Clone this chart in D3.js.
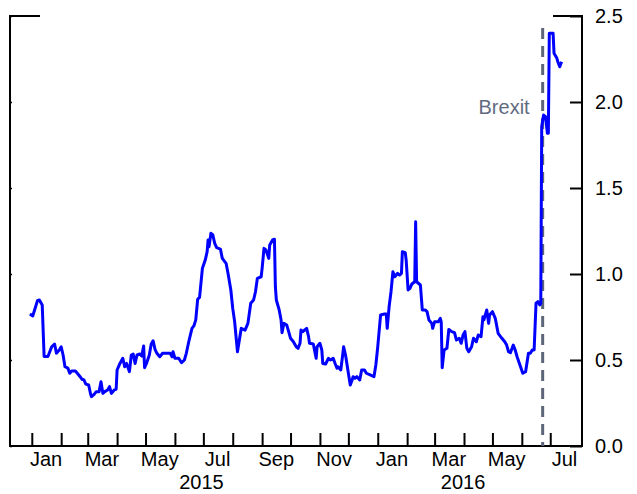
<!DOCTYPE html>
<html>
<head>
<meta charset="utf-8">
<script src="https://cdn.jsdelivr.net/npm/d3@7"></script>
<style>
  html, body { margin: 0; padding: 0; background: #fff; }
  svg { display: block; font-family: "Liberation Sans", Arial, Helvetica, sans-serif; }
</style>
</head>
<body>
<svg id="chart" width="637" height="494"></svg>
<script>
// ---- data ----
const dates = [
"2014-12-30","2015-01-02","2015-01-07","2015-01-09","2015-01-12","2015-01-14","2015-01-18","2015-01-22","2015-01-25","2015-01-27","2015-01-30",
"2015-02-01","2015-02-03","2015-02-05","2015-02-08","2015-02-10","2015-02-12","2015-02-16","2015-02-18","2015-02-21","2015-02-23","2015-02-25","2015-02-27",
"2015-03-02","2015-03-04","2015-03-05","2015-03-08","2015-03-10","2015-03-13","2015-03-15","2015-03-17","2015-03-19","2015-03-22","2015-03-24","2015-03-26","2015-03-29","2015-03-31",
"2015-04-01","2015-04-04","2015-04-07","2015-04-09","2015-04-11","2015-04-14","2015-04-16","2015-04-18","2015-04-20","2015-04-22","2015-04-25","2015-04-27","2015-04-29","2015-04-30",
"2015-05-02","2015-05-05","2015-05-07","2015-05-09","2015-05-11","2015-05-13","2015-05-16","2015-05-19","2015-05-23","2015-05-27","2015-05-29","2015-05-30",
"2015-06-01","2015-06-05","2015-06-08","2015-06-11","2015-06-13","2015-06-16","2015-06-19","2015-06-21","2015-06-23","2015-06-25","2015-06-27","2015-06-30",
"2015-07-03","2015-07-05","2015-07-06","2015-07-07","2015-07-09","2015-07-11","2015-07-13","2015-07-15","2015-07-19","2015-07-21","2015-07-25","2015-07-27","2015-07-30",
"2015-08-01","2015-08-03","2015-08-06","2015-08-10","2015-08-14","2015-08-17","2015-08-20","2015-08-23","2015-08-25","2015-08-27","2015-08-31",
"2015-09-01","2015-09-03","2015-09-05","2015-09-08","2015-09-09","2015-09-12","2015-09-14","2015-09-15","2015-09-16","2015-09-19","2015-09-21","2015-09-22","2015-09-24","2015-09-27","2015-09-29",
"2015-10-01","2015-10-04","2015-10-07","2015-10-09","2015-10-11","2015-10-12","2015-10-14","2015-10-15","2015-10-18","2015-10-20","2015-10-21","2015-10-25","2015-10-28","2015-10-29",
"2015-11-01","2015-11-03","2015-11-04","2015-11-07","2015-11-10","2015-11-12","2015-11-15","2015-11-17","2015-11-19","2015-11-20","2015-11-23","2015-11-25","2015-11-26","2015-11-28",
"2015-12-01","2015-12-03","2015-12-05","2015-12-06","2015-12-08","2015-12-10","2015-12-13","2015-12-15","2015-12-18","2015-12-20","2015-12-24","2015-12-28","2015-12-30",
"2016-01-01","2016-01-04","2016-01-08","2016-01-10","2016-01-11","2016-01-13","2016-01-15","2016-01-17","2016-01-19","2016-01-22","2016-01-24","2016-01-26","2016-01-27","2016-01-30","2016-01-31",
"2016-02-02","2016-02-04","2016-02-06","2016-02-09","2016-02-10","2016-02-11","2016-02-15","2016-02-17","2016-02-20","2016-02-22","2016-02-24","2016-02-27","2016-02-28",
"2016-03-01","2016-03-05","2016-03-07","2016-03-08","2016-03-09","2016-03-11","2016-03-14","2016-03-16","2016-03-19","2016-03-22","2016-03-24","2016-03-27","2016-03-29","2016-03-31",
"2016-04-02","2016-04-04","2016-04-06","2016-04-09","2016-04-11","2016-04-14","2016-04-16","2016-04-19","2016-04-21","2016-04-22","2016-04-25","2016-04-27","2016-04-28",
"2016-05-01","2016-05-04","2016-05-07","2016-05-11","2016-05-14","2016-05-16","2016-05-18","2016-05-20","2016-05-23","2016-05-25","2016-05-27","2016-05-30",
"2016-06-02","2016-06-05","2016-06-08","2016-06-10","2016-06-12","2016-06-14","2016-06-16","2016-06-18","2016-06-20","2016-06-21","2016-06-22","2016-06-24","2016-06-26","2016-06-28","2016-06-29","2016-06-30",
"2016-07-04","2016-07-05","2016-07-08","2016-07-09","2016-07-11","2016-07-13"
];
const values = [
0.767,0.756,0.845,0.849,0.82,0.52,0.52,0.577,0.593,0.54,0.558,
0.577,0.529,0.461,0.453,0.423,0.436,0.436,0.423,0.403,0.388,0.384,0.36,
0.355,0.302,0.287,0.302,0.316,0.316,0.374,0.306,0.316,0.326,0.345,0.306,0.326,0.33,
0.442,0.48,0.51,0.461,0.48,0.432,0.529,0.535,0.48,0.529,0.535,0.523,0.581,0.455,
0.48,0.529,0.593,0.612,0.562,0.539,0.519,0.539,0.539,0.539,0.519,0.548,
0.51,0.51,0.484,0.5,0.539,0.616,0.684,0.698,0.733,0.853,0.864,1.033,
1.081,1.13,1.198,1.159,1.237,1.227,1.178,1.153,1.145,1.091,1.062,1.004,0.907,
0.8,0.723,0.548,0.684,0.674,0.713,0.83,0.849,0.897,0.975,0.984,
1.033,1.149,1.14,1.091,1.169,1.198,1.202,0.926,0.849,0.791,0.733,0.659,0.713,0.703,0.665,
0.626,0.606,0.577,0.568,0.597,0.674,0.665,0.67,0.684,0.636,0.597,0.593,0.51,0.577,
0.597,0.558,0.48,0.477,0.51,0.5,0.51,0.48,0.452,0.461,0.442,0.529,0.577,0.529,
0.423,0.355,0.384,0.403,0.394,0.403,0.384,0.442,0.442,0.423,0.413,0.403,0.471,
0.577,0.762,0.767,0.767,0.684,0.81,0.897,1.013,0.984,1.004,0.994,1.004,1.13,1.124,1.081,
0.907,0.917,0.942,0.955,1.304,0.955,0.936,0.791,0.791,0.781,0.733,0.713,0.684,
0.723,0.723,0.742,0.72,0.455,0.558,0.568,0.678,0.665,0.659,0.616,0.626,0.597,0.645,
0.665,0.568,0.548,0.577,0.626,0.606,0.645,0.636,0.752,0.733,0.791,0.713,0.762,
0.781,0.742,0.655,0.626,0.606,0.587,0.548,0.542,0.587,0.558,0.519,0.471,
0.423,0.432,0.539,0.539,0.558,0.558,0.83,0.839,0.82,0.83,1.857,1.924,1.915,1.818,1.818,2.399,
2.4,2.283,2.254,2.234,2.205,2.234
];
const xDomain = ["2014-12-09", "2016-08-03T12:00"];
const yTicks = [0, 0.5, 1.0, 1.5, 2.0, 2.5];
const monthTickDates = ["2015-01-01","2015-02-01","2015-03-01","2015-04-01","2015-05-01","2015-06-01","2015-07-01","2015-08-01","2015-09-01","2015-10-01","2015-11-01","2015-12-01",
                        "2016-01-01","2016-02-01","2016-03-01","2016-04-01","2016-05-01","2016-06-01","2016-07-01"];
const monthLabels = ["Jan","Mar","May","Jul","Sep","Nov","Jan","Mar","May","Jul"];
const monthLabelDates = ["2015-01-16","2015-03-16","2015-05-16","2015-07-16","2015-09-16","2015-11-16","2016-01-16","2016-03-16","2016-05-16","2016-07-16"];
const yearLabels = ["2015","2016"];
const yearLabelDates = ["2015-06-29","2016-03-31"];
const eventDate = "2016-06-23";
const eventLabel = "Brexit";

// ---- chart ----
(function () {
const svg = d3.select("#chart");
const parse = d => new Date(d.length > 10 ? d : d + "T00:00");
const mL = 10, mR = 582, mT = 16, mB = 446;

const x = d3.scaleTime().domain(xDomain.map(parse)).range([mL, mR]);
const y = d3.scaleLinear().domain([0, 2.5]).range([mB, mT]);

const series = dates.map((d, i) => ({ date: parse(d), value: values[i] }));

// Bottom axis with inward (upward) month ticks
const xAxis = d3.axisBottom(x)
  .tickValues(monthTickDates.map(parse))
  .tickSize(-13)
  .tickFormat("");
const gx = svg.append("g").attr("transform", `translate(0,${mB})`).call(xAxis);
gx.select(".domain").remove();
gx.selectAll(".tick line").attr("stroke", "#000").attr("stroke-width", 2);
svg.append("line").attr("x1", mL).attr("x2", mR + 1).attr("y1", mB).attr("y2", mB)
  .attr("stroke", "#000").attr("stroke-width", 2);

// Right axis
const yAxisR = d3.axisRight(y).tickValues(yTicks).tickSize(-12).tickFormat(d3.format(".1f"));
const gyr = svg.append("g").attr("transform", `translate(${mR},0)`).call(yAxisR);
gyr.select(".domain").remove();
gyr.selectAll(".tick line").attr("stroke", "#000").attr("stroke-width", 2);
gyr.selectAll(".tick text").attr("x", 13).attr("font-size", 20).attr("fill", "#000")
  .attr("font-family", "'Liberation Sans', Arial, sans-serif");
svg.append("line").attr("x1", mR).attr("x2", mR).attr("y1", mT - 1).attr("y2", mB + 1)
  .attr("stroke", "#000").attr("stroke-width", 2);
svg.append("line").attr("x1", mR - 29).attr("x2", mR).attr("y1", y(2.5)).attr("y2", y(2.5))
  .attr("stroke", "#000").attr("stroke-width", 2);

// Left axis
const yAxisL = d3.axisLeft(y).tickValues(yTicks).tickSize(-2).tickFormat("");
const gyl = svg.append("g").attr("transform", `translate(${mL},0)`).call(yAxisL);
gyl.select(".domain").remove();
gyl.selectAll(".tick line").attr("stroke", "#000").attr("stroke-width", 1.5);
svg.append("line").attr("x1", mL).attr("x2", mL).attr("y1", mT - 1).attr("y2", mB + 1)
  .attr("stroke", "#000").attr("stroke-width", 2);
svg.append("line").attr("x1", mL).attr("x2", mL + 30).attr("y1", y(2.5)).attr("y2", y(2.5))
  .attr("stroke", "#000").attr("stroke-width", 2);

// Month labels
svg.append("g").selectAll("text").data(monthLabels).join("text")
  .attr("x", (d, i) => x(parse(monthLabelDates[i])))
  .attr("y", 466)
  .attr("text-anchor", "middle")
  .attr("font-size", 20)
  .attr("fill", "#000")
  .text(d => d);

// Year labels
svg.append("g").selectAll("text").data(yearLabels).join("text")
  .attr("x", (d, i) => x(parse(yearLabelDates[i])))
  .attr("y", 489)
  .attr("text-anchor", "middle")
  .attr("font-size", 20)
  .attr("fill", "#000")
  .text(d => d);

// Event line
const ex = x(parse(eventDate));
svg.append("line").attr("x1", ex).attr("x2", ex).attr("y1", 28).attr("y2", mB)
  .attr("stroke", "#5d6678").attr("stroke-width", 3).attr("stroke-dasharray", "11,7");
svg.append("text").attr("x", ex - 13).attr("y", 114)
  .attr("text-anchor", "end").attr("font-size", 20).attr("fill", "#5f6b7f")
  .text(eventLabel);

// Series line
const line = d3.line().x(d => x(d.date)).y(d => y(d.value));
svg.append("path").datum(series)
  .attr("d", line)
  .attr("fill", "none")
  .attr("stroke", "#0000ff")
  .attr("stroke-width", 3)
  .attr("stroke-linejoin", "round");
})();
</script>
</body>
</html>
